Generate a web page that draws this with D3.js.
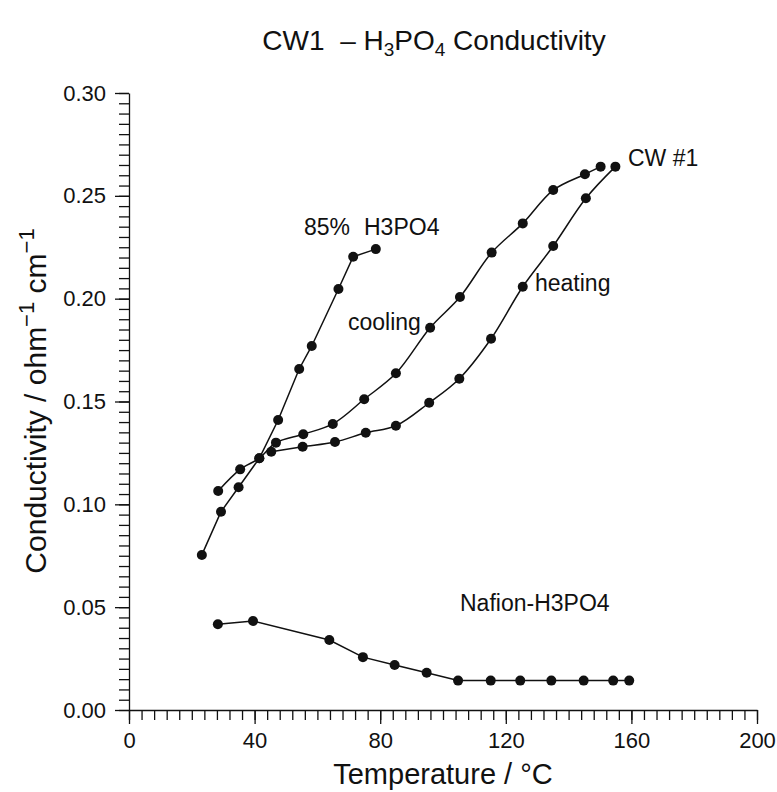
<!DOCTYPE html>
<html>
<head>
<meta charset="utf-8">
<script src="https://cdn.jsdelivr.net/npm/d3@7"></script>
<style>
  body { margin: 0; background: #fff; }
  svg { font-family: "Liberation Sans", Arial, sans-serif; }
</style>
</head>
<body>
<svg id="chart" width="777" height="792"></svg>
<script>
// ---- data (temperature °C, conductivity ohm^-1 cm^-1) ----
const acidT   = [23.2, 29.3, 34.9, 41.5, 47.5, 54.2, 58.2, 66.7, 71.4, 78.6];
const acidC   = [0.0754, 0.0964, 0.1083, 0.1224, 0.1410, 0.1658, 0.1770, 0.2047, 0.2204, 0.2241];

const coolT   = [28.4, 35.4, 41.5, 46.8, 55.5, 64.9, 74.9, 85.0, 95.9, 105.4, 115.5, 125.4, 135.1, 145.2, 150.2];
const coolC   = [0.1065, 0.1170, 0.1224, 0.1300, 0.1341, 0.1391, 0.1511, 0.1637, 0.1859, 0.2008, 0.2224, 0.2366, 0.2528, 0.2605, 0.2642];

const heatT   = [45.3, 55.3, 65.6, 75.4, 85.0, 95.6, 105.2, 115.3, 125.4, 135.1, 145.5, 154.9];
const heatC   = [0.1256, 0.1280, 0.1303, 0.1348, 0.1382, 0.1494, 0.1611, 0.1805, 0.2058, 0.2256, 0.2488, 0.2642];

const nafT    = [28.3, 39.5, 63.8, 74.5, 84.6, 94.8, 104.8, 115.2, 124.6, 134.5, 144.8, 154.2, 159.3];
const nafC    = [0.0417, 0.0433, 0.0340, 0.0257, 0.0219, 0.0181, 0.0143, 0.0143, 0.0143, 0.0143, 0.0143, 0.0143, 0.0143];

const xTicks = [0, 40, 80, 120, 160, 200];
const yTicks = [0.00, 0.05, 0.10, 0.15, 0.20, 0.25, 0.30];

const zip = (a, b) => a.map((v, i) => [v, b[i]]);
const series = [
  { pts: zip(acidT, acidC), curve: d3.curveLinear },
  { pts: zip(coolT, coolC), curve: d3.curveCatmullRom.alpha(0.5) },
  { pts: zip(heatT, heatC), curve: d3.curveCatmullRom.alpha(0.5) },
  { pts: zip(nafT, nafC), curve: d3.curveLinear }
];

const svg = d3.select("#chart");
const x = d3.scaleLinear().domain([0, 200]).range([129, 757]);
const y = d3.scaleLinear().domain([0, 0.30]).range([710, 93]);

// ---- axes ----
const xMinor = d3.range(0, 201, 4);
const yMinor = d3.range(0, 61).map(i => i * 0.005);

const gx = svg.append("g").attr("transform", `translate(0,${y(0)})`);
gx.call(d3.axisBottom(x).tickValues(xMinor).tickSize(10).tickFormat(""));
gx.call(g => g.select(".domain").remove());
const gx2 = svg.append("g").attr("transform", `translate(0,${y(0)})`);
gx2.call(d3.axisBottom(x).tickValues(xTicks).tickSize(14).tickPadding(5).tickFormat(d3.format("d")).tickSizeOuter(0));
gx2.selectAll("text").attr("font-size", 22).attr("fill", "#111").attr("dy", "0.85em");
gx2.selectAll("line, path").attr("stroke", "#111").attr("stroke-width", 1.3);
gx.selectAll("line").attr("stroke", "#111").attr("stroke-width", 1.3);

const gy = svg.append("g").attr("transform", `translate(${x(0)},0)`);
gy.call(d3.axisLeft(y).tickValues(yMinor).tickSize(10).tickFormat(""));
gy.call(g => g.select(".domain").remove());
gy.selectAll("line").attr("stroke", "#111").attr("stroke-width", 1.3);
const gy2 = svg.append("g").attr("transform", `translate(${x(0)},0)`);
gy2.call(d3.axisLeft(y).tickValues(yTicks).tickSize(14).tickPadding(9).tickFormat(d3.format(".2f")).tickSizeOuter(0));
gy2.selectAll("text").attr("font-size", 22).attr("fill", "#111");
gy2.selectAll("line, path").attr("stroke", "#111").attr("stroke-width", 1.3);

// ---- lines and points ----
const line = d3.line().x(d => x(d[0])).y(d => y(d[1]));
series.forEach(s => {
  svg.append("path")
    .attr("d", line.curve(s.curve)(s.pts))
    .attr("fill", "none").attr("stroke", "#111").attr("stroke-width", 1.5);
  svg.append("g").selectAll("circle").data(s.pts).join("circle")
    .attr("cx", d => x(d[0])).attr("cy", d => y(d[1])).attr("r", 5)
    .attr("fill", "#111");
});

// ---- annotations ----
const ann = (t, px, py) => svg.append("text").attr("x", px).attr("y", py)
  .attr("font-size", 23).attr("fill", "#111").text(t);
ann("85%", 304, 235);
ann("H3PO4", 364, 235);
ann("cooling", 348, 330);
ann("heating", 535, 291);
ann("CW #1", 628, 166);
ann("Nafion-H3PO4", 460, 611);

// ---- title ----
const title = svg.append("text").attr("x", 434).attr("y", 50)
  .attr("text-anchor", "middle").attr("font-size", 28).attr("fill", "#111");
title.append("tspan").text("CW1\u00A0\u00A0\u2013\u00A0H");
title.append("tspan").attr("font-size", 19).attr("dy", 6).text("3");
title.append("tspan").attr("dy", -6).text("PO");
title.append("tspan").attr("font-size", 19).attr("dy", 6).text("4");
title.append("tspan").attr("dy", -6).text(" Conductivity");

// ---- axis titles ----
svg.append("text").attr("x", 443).attr("y", 784).attr("text-anchor", "middle")
  .attr("font-size", 29).attr("fill", "#111").text("Temperature / \u00B0C");

const yl = svg.append("text").attr("transform", "translate(46,401) rotate(-90)")
  .attr("text-anchor", "middle").attr("font-size", 30).attr("fill", "#111");
yl.append("tspan").text("Conductivity / ohm");
yl.append("tspan").attr("font-size", 22).attr("dy", -12).text("\u22121");
yl.append("tspan").attr("dy", 12).text(" cm");
yl.append("tspan").attr("font-size", 22).attr("dy", -12).text("\u22121");
</script>
</body>
</html>
